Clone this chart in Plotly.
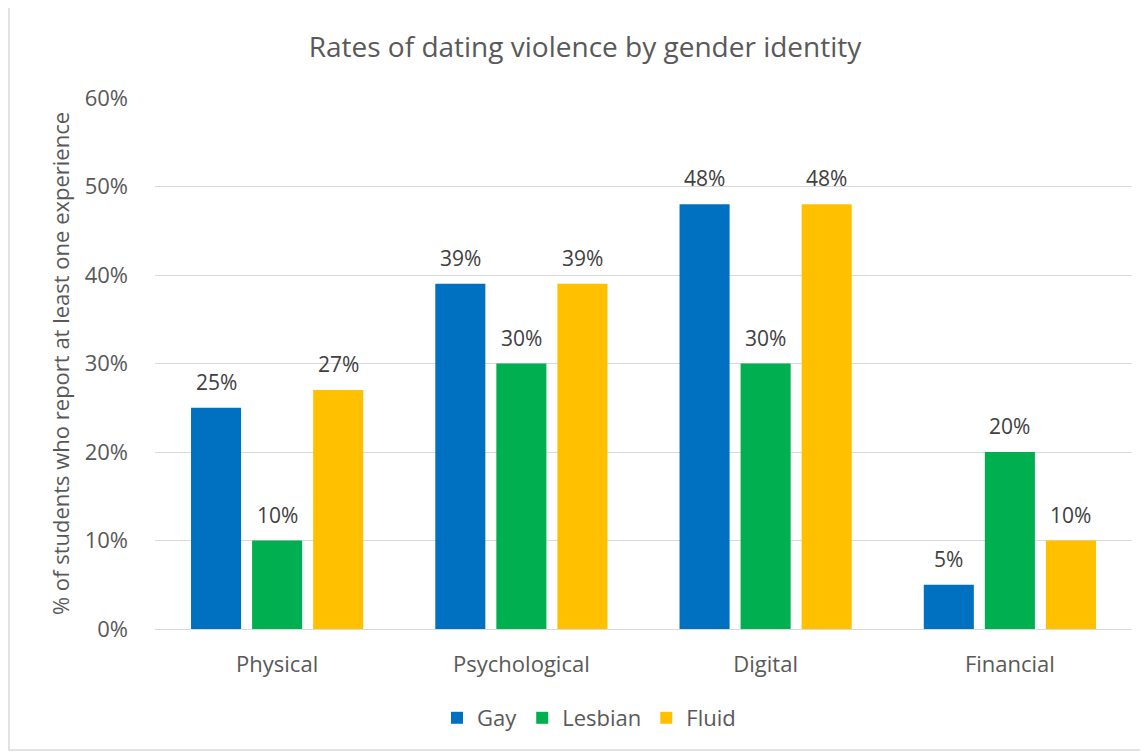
import plotly.graph_objects as go

categories = ["Physical", "Psychological", "Digital", "Financial"]
gay = [0.25, 0.39, 0.48, 0.05]
lesbian = [0.10, 0.30, 0.30, 0.20]
fluid = [0.27, 0.39, 0.48, 0.10]
series_names = ["Gay", "Lesbian", "Fluid"]
colors = ["#0070C0", "#00B050", "#FFC000"]

FONT = "Open Sans"
OFF = 8  # page body margin
W, H = 1148 - OFF, 753 - OFF
L, T = 155 - OFF, 98 - OFF
R = W - (1132 - OFF)
B = H - (629 - OFF)
pw, ph = W - L - R, H - T - B
def px2x(px): return (px - OFF - L) / pw
def py2y(py): return (H - B - (py - OFF)) / ph

BARGAP, GROUPGAP = 0.25, 0.18
slot = pw / len(categories) * (1 - BARGAP) / 3

fig = go.Figure()
annotations = []
for i, (name, vals, c) in enumerate(zip(series_names, [gay, lesbian, fluid], colors)):
    fig.add_trace(go.Bar(
        x=categories, y=vals, name=name, marker=dict(color=c, line=dict(width=0)),
    ))
    for cat, v in zip(categories, vals):
        annotations.append(dict(
            x=cat, y=v, xref="x", yref="y", text=f"{round(v*100)}%", showarrow=False,
            xshift=(i - 1) * slot, yanchor="bottom", yshift=10,
            font=dict(family=FONT, size=21, color="#404040")))

fig.update_layout(
    width=W, height=H,
    margin=dict(l=L, r=R, t=T, b=B),
    paper_bgcolor="white", plot_bgcolor="white",
    barmode="group", bargap=BARGAP, bargroupgap=GROUPGAP,
    title=dict(text="Rates of dating violence by gender identity",
               x=(585 - OFF) / W, xref="container", xanchor="center",
               y=1 - (47 - OFF) / H, yanchor="middle",
               font=dict(family=FONT, size=28, color="#595959")),
    font=dict(family=FONT, color="#595959"),
    legend=dict(orientation="h", x=px2x(589), xanchor="center", y=py2y(718), yanchor="middle",
                font=dict(family=FONT, size=22, color="#595959"), traceorder="normal"),
    yaxis=dict(range=[0, 0.6], dtick=0.1, tickformat=".0%", showgrid=True,
               gridcolor="#D9D9D9", gridwidth=1, zeroline=True, zerolinecolor="#D9D9D9",
               zerolinewidth=1, tickfont=dict(family=FONT, size=22, color="#595959"),
               ticks="", ticklen=0, ticklabelstandoff=26,
               title=dict(text="% of students who report at least one experience",
                          font=dict(family=FONT, size=22, color="#595959"), standoff=8)),
    xaxis=dict(tickfont=dict(family=FONT, size=22, color="#595959"), showline=False,
               ticks="", ticklabelstandoff=20),
    annotations=annotations,
    showlegend=True,
    shapes=[dict(type="rect", xref="paper", yref="paper",
                 x0=px2x(9), x1=px2x(1160), y0=py2y(750), y1=py2y(5),
                 line=dict(color="#D9D9D9", width=1.5), fillcolor="rgba(0,0,0,0)", layer="below")],
)
fig.write_html("out.html")
